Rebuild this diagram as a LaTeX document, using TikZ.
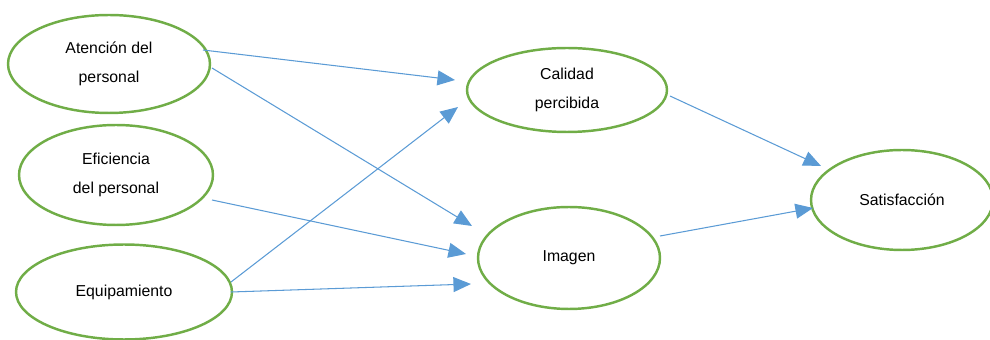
\documentclass[tikz,border=0pt]{standalone}
\usepackage{fontspec}
\setmainfont{Liberation Sans}
\usetikzlibrary{arrows.meta,shapes.geometric}
\definecolor{ovalgreen}{HTML}{70AD47}
\definecolor{linkblue}{HTML}{5B9BD5}
\begin{document}
\begin{tikzpicture}[x=0.02cm,y=-0.02cm,
  construct/.style={ellipse, draw=ovalgreen, line width=1.4pt, inner sep=0pt,
    align=center, font=\fontsize{9}{16.5}\selectfont},
  link/.style={draw=linkblue, line width=0.6pt,
    -{Triangle[length=10pt,width=8.5pt]}}]
\useasboundingbox (0,0) rectangle (990,340);
% constructs
\node[construct, minimum width=4.04cm, minimum height=1.96cm] (aten) at (109,64) {Atención del\\personal};
\node[construct, minimum width=3.88cm, minimum height=2.0cm] (efic) at (116,175) {Eficiencia\\del personal};
\node[construct, minimum width=4.32cm, minimum height=1.9cm] (equi) at (124,292) {Equipamiento};
\node[construct, minimum width=4.0cm, minimum height=1.68cm] (cali) at (567,90) {Calidad\\percibida};
\node[construct, minimum width=3.64cm, minimum height=2.04cm] (imag) at (569,258) {Imagen};
\node[construct, minimum width=3.64cm, minimum height=2.0cm] (sati) at (902,200) {Satisfacción};
% connector ends
\coordinate (a1) at (203,50);  \coordinate (c1) at (455,80);
\coordinate (a2) at (212,68);  \coordinate (i1) at (472,226);
\coordinate (e1) at (212,200); \coordinate (i2) at (466,254);
\coordinate (q1) at (231,282); \coordinate (c2) at (458,107);
\coordinate (q2) at (231,292); \coordinate (i3) at (471,284);
\coordinate (c3) at (670,96);  \coordinate (s1) at (821,166);
\coordinate (i4) at (660,236); \coordinate (s2) at (813,208);
% paths
\draw[link] (a1) -- (c1);
\draw[link] (a2) -- (i1);
\draw[link] (e1) -- (i2);
\draw[link] (q1) -- (c2);
\draw[link] (q2) -- (i3);
\draw[link] (c3) -- (s1);
\draw[link] (i4) -- (s2);
\end{tikzpicture}
\end{document}
